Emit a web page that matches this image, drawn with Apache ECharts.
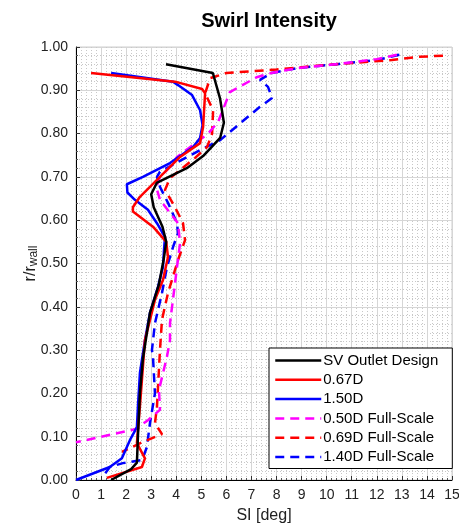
<!DOCTYPE html>
<html>
<head>
<meta charset="utf-8">
<script src="https://cdn.jsdelivr.net/npm/echarts@6/dist/echarts.min.js"></script>
<style>
html,body{margin:0;padding:0;background:#fff;}
#chart{width:459px;height:525px;}
</style>
</head>
<body>
<div id="chart"></div>
<script>
// ---- Data (SI [deg], r/r_wall) ----
const seriesNames = ["SV Outlet Design","0.67D","1.50D","0.50D Full-Scale","0.69D Full-Scale","1.40D Full-Scale"];

const svSI = [3.59,5.46,5.75,5.9,5.75,5.07,4.42,3.22,3.0,3.1,3.45,3.6,3.5,3.3,2.95,2.67,2.55,2.47,2.43,2.2,1.4];
const svR  = [0.96,0.94,0.88,0.825,0.79,0.748,0.72,0.686,0.66,0.63,0.585,0.55,0.51,0.45,0.386,0.28,0.2,0.1,0.04,0.025,0.0];

const d067SI = [0.6,3.95,5.03,5.15,5.07,4.95,4.15,3.23,2.55,2.27,2.27,3.07,3.6,3.67,3.47,3.15,2.75,2.55,2.43,2.75,2.63,1.23];
const d067R  = [0.94,0.92,0.903,0.893,0.815,0.778,0.746,0.693,0.654,0.63,0.62,0.585,0.55,0.515,0.462,0.416,0.323,0.17,0.085,0.05,0.03,0.005];

const d150SI = [1.4,3.87,4.07,4.63,4.95,5.05,4.95,4.67,3.75,2.67,2.03,2.05,2.35,2.87,3.23,3.55,3.51,3.47,3.27,2.95,2.75,2.55,2.47,2.43,2.15,1.83,1.35,0.0];
const d150R  = [0.94,0.92,0.912,0.889,0.854,0.82,0.79,0.769,0.732,0.70,0.683,0.664,0.647,0.624,0.593,0.561,0.531,0.492,0.446,0.386,0.323,0.247,0.169,0.122,0.092,0.05,0.03,0.0];

const fs050SI = [12.8,12.0,10.5,8.8,7.8,7.2,6.14,5.67,5.27,4.67,4.03,3.75,3.35,3.2,3.35,3.75,4.07,4.15,3.95,3.75,3.75,3.63,3.31,3.35,2.87,2.35,0.0];
const fs050R  = [0.982,0.972,0.961,0.951,0.94,0.93,0.896,0.827,0.80,0.774,0.746,0.723,0.70,0.677,0.647,0.617,0.593,0.547,0.455,0.362,0.323,0.285,0.208,0.162,0.138,0.117,0.087];

const fs069SI = [14.64,13.6,12.6,11.0,9.5,8.0,7.0,6.0,5.35,5.15,5.47,5.43,5.23,4.75,3.75,3.55,3.95,4.27,4.35,4.07,3.67,3.43,3.35,3.23,3.15,3.43,2.67,1.83];
const fs069R  = [0.98,0.977,0.97,0.963,0.956,0.948,0.944,0.94,0.928,0.893,0.854,0.80,0.769,0.744,0.697,0.67,0.63,0.593,0.554,0.508,0.432,0.37,0.30,0.169,0.131,0.106,0.088,0.065];

const fs140SI = [12.9,12.0,10.5,8.8,7.8,7.34,7.66,7.82,7.34,5.75,4.95,3.35,3.23,3.35,3.67,4.03,4.07,3.87,3.63,3.43,3.15,3.03,3.07,3.15,2.95,2.83,2.63,1.87,1.35,1.03];
const fs140R  = [0.982,0.97,0.961,0.951,0.94,0.924,0.908,0.882,0.862,0.785,0.762,0.712,0.70,0.677,0.64,0.593,0.57,0.538,0.492,0.432,0.362,0.30,0.285,0.2,0.131,0.076,0.046,0.039,0.03,0.005];

const xTicks = [0,1,2,3,4,5,6,7,8,9,10,11,12,13,14,15];
const yTicks = [0,0.1,0.2,0.3,0.4,0.5,0.6,0.7,0.8,0.9,1.0];

const colors = ["#000000","#ff0000","#0000ff","#ff00ff","#ff0000","#0000ff"];
const dashed = [false,false,false,true,true,true];
const xs = [svSI,d067SI,d150SI,fs050SI,fs069SI,fs140SI];
const ys = [svR,d067R,d150R,fs050R,fs069R,fs140R];

function zip(a,b){ return a.map((v,i)=>[v,b[i]]); }

const chart = echarts.init(document.getElementById('chart'), null, {renderer:'canvas'});
const FONT = '"Liberation Sans", Arial, sans-serif';

const series = seriesNames.map((n,i)=>({
  name: n,
  type: 'line',
  data: zip(xs[i], ys[i]),
  symbol: 'none',
  showSymbol: false,
  animation: false,
  z: 10 - i,
  lineStyle: {
    color: colors[i],
    width: 2.5,
    type: dashed[i] ? [9,6] : 'solid'
  },
  itemStyle: {color: colors[i]}
}));

chart.setOption({
  animation: false,
  backgroundColor: '#ffffff',
  title: {
    text: 'Swirl Intensity',
    left: 264,
    textAlign: 'center',
    top: 6,
    textStyle: {fontFamily: FONT, fontSize: 20, fontWeight: 'bold', color: '#000'}
  },
  grid: {
    left: 76, right: 7, top: 47, bottom: 45,
    outerBoundsMode: 'none', containLabel: false,
    show: true, borderColor: '#cfcfcf', borderWidth: 1, backgroundColor: 'transparent'
  },
  legend: {
    orient: 'vertical',
    left: 269, top: 348,
    backgroundColor: '#ffffff',
    borderColor: '#000', borderWidth: 1,
    padding: [5, 14, 4, 5],
    itemWidth: 46, itemHeight: 14, itemGap: 4.3,
    itemStyle: {opacity: 0},
    lineStyle: {width: 2.5},
    textStyle: {fontFamily: FONT, fontSize: 15, lineHeight: 15, color: '#000', padding: [0,0,0,-3]},
    data: seriesNames
  },
  xAxis: {
    type: 'value', min: 0, max: 15, interval: 1,
    name: 'SI [deg]', nameLocation: 'middle', nameGap: 28, nameMoveOverlap: false,
    nameTextStyle: {fontFamily: FONT, fontSize: 16, color: '#222'},
    axisLine: {show: true, onZero: false, lineStyle: {color: '#000', width: 1}},
    axisTick: {show: true, inside: true, length: 4, lineStyle: {color: '#333'}},
    minorTick: {show: true, splitNumber: 5, length: 2, lineStyle: {color: '#555'}},
    axisLabel: {fontFamily: FONT, fontSize: 14, color: '#222', margin: 8,
      formatter: v => xTicks.includes(v) ? String(v) : ''},
    splitLine: {show: true, lineStyle: {color: '#d6d6d6', width: 1}},
    minorSplitLine: {show: true, lineStyle: {color: '#c8c8c8', width: 1, type: [1,2]}}
  },
  yAxis: {
    type: 'value', min: 0, max: 1, interval: 0.1,
    name: '{n|r/r}{s|wall}', nameLocation: 'middle', nameGap: 36, nameRotate: 90, nameMoveOverlap: false,
    nameTextStyle: {fontFamily: FONT, fontSize: 16, color: '#222',
      rich: {
        n: {fontFamily: FONT, fontSize: 16, color: '#222'},
        s: {fontFamily: FONT, fontSize: 12, color: '#222', verticalAlign: 'bottom', padding: [6,0,0,0]}
      }},
    axisLine: {show: true, onZero: false, lineStyle: {color: '#000', width: 1}},
    axisTick: {show: true, inside: true, length: 4, lineStyle: {color: '#333'}},
    minorTick: {show: true, splitNumber: 5, length: 2, lineStyle: {color: '#555'}},
    axisLabel: {fontFamily: FONT, fontSize: 14, color: '#222', margin: 8,
      formatter: v => v.toFixed(2)},
    splitLine: {show: true, lineStyle: {color: '#d6d6d6', width: 1}},
    minorSplitLine: {show: true, lineStyle: {color: '#c8c8c8', width: 1, type: [1,2]}}
  },
  series: series
});
</script>
</body>
</html>
